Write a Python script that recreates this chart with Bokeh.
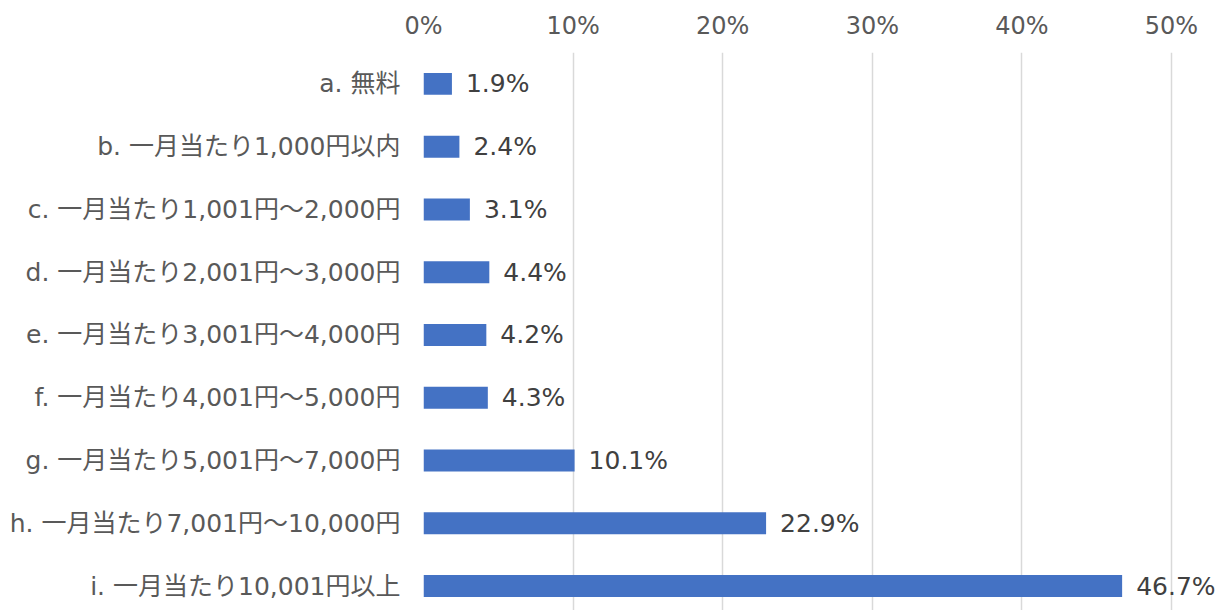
from bokeh.plotting import figure
from bokeh.models import ColumnDataSource, Range1d, FixedTicker, NumeralTickFormatter, LabelSet
from bokeh.core.properties import value
from bokeh.embed import file_html
from bokeh.resources import INLINE

categories = [
    "a. 無料",
    "b. 一月当たり1,000円以内",
    "c. 一月当たり1,001円～2,000円",
    "d. 一月当たり2,001円～3,000円",
    "e. 一月当たり3,001円～4,000円",
    "f. 一月当たり4,001円～5,000円",
    "g. 一月当たり5,001円～7,000円",
    "h. 一月当たり7,001円～10,000円",
    "i. 一月当たり10,001円以上",
]
values = [1.9, 2.4, 3.1, 4.4, 4.2, 4.3, 10.1, 22.9, 46.7]
x_ticks = [0, 0.1, 0.2, 0.3, 0.4, 0.5]

FONT = "'DejaVu Sans', 'Noto Sans CJK JP', sans-serif"
pos = list(range(len(categories)))
src = ColumnDataSource(dict(
    y=pos,
    v=[x / 100 for x in values],
    lab=[f"{x:.1f}%" for x in values],
))

W, H = 1225, 610
left, right50 = 423, 1171
x_end = 0.5 * (W - left) / (right50 - left)

p = figure(width=W, height=H, output_backend="svg", toolbar_location=None,
           x_range=Range1d(0, x_end), y_range=Range1d(8.39, -0.5),
           x_axis_location="above",
           min_border_left=left, min_border_right=0, min_border_top=52, min_border_bottom=0)
p.outline_line_color = None
p.background_fill_color = "white"
p.border_fill_color = "white"

p.hbar(y="y", right="v", left=0, height=0.35, source=src, color="#4472C4", line_color=None)

labels = LabelSet(x="v", y="y", text="lab", source=src, x_offset=14, text_align="left",
                  text_baseline="middle", text_font=value(FONT), text_font_size="25px",
                  text_color="#404040")
p.add_layout(labels)

xa = p.xaxis[0]
xa.ticker = FixedTicker(ticks=x_ticks)
xa.formatter = NumeralTickFormatter(format="0%")
xa.axis_line_color = None
xa.major_tick_line_color = None
xa.minor_tick_line_color = None
xa.major_label_text_font = FONT
xa.major_label_text_font_size = "24px"
xa.major_label_text_color = "#595959"
xa.major_label_standoff = 7

ya = p.yaxis[0]
ya.ticker = FixedTicker(ticks=pos)
ya.major_label_overrides = {i: c for i, c in zip(pos, categories)}
ya.axis_line_color = None
ya.major_tick_line_color = None
ya.minor_tick_line_color = None
ya.major_label_text_font = FONT
ya.major_label_text_font_size = "25px"
ya.major_label_text_color = "#595959"
ya.major_label_standoff = 17

p.xgrid.grid_line_color = "#D9D9D9"
p.xgrid.grid_line_width = 1.5
p.ygrid.grid_line_color = None

open("out.html", "w").write(file_html(p, INLINE))
